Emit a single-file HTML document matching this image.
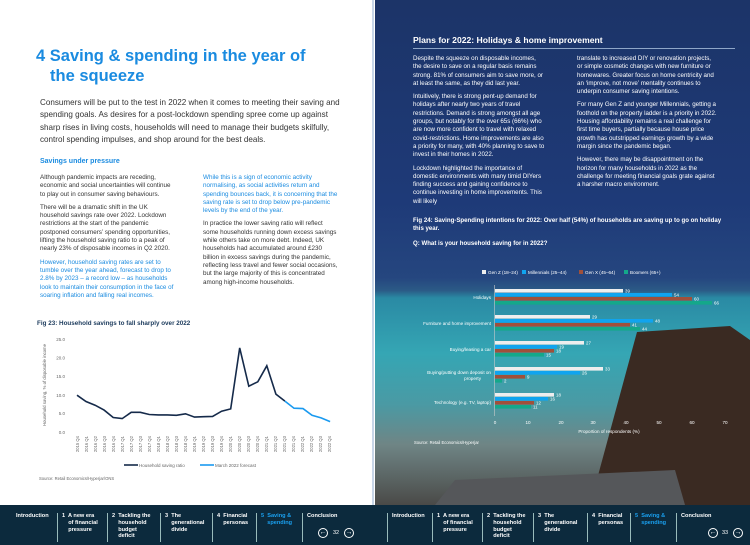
<!DOCTYPE html>
<html><head><meta charset="utf-8"><style>
*{margin:0;padding:0;box-sizing:border-box}
body{width:750px;height:545px;overflow:hidden;position:relative;font-family:"Liberation Sans",sans-serif;background:#fff}
.a{position:absolute}
.t{font-size:6.3px;line-height:8.3px;color:#333}
.w{color:#fff;font-size:6.2px;line-height:8.3px}
.b{color:#1a8be0}
p{margin-bottom:5px}
.nav{position:absolute;top:505px;height:40px;background:#0c2a3d;width:750px;left:0}
.ni{position:absolute;top:8px;color:#fff;font-size:5.6px;line-height:6.8px;font-weight:bold;padding-left:4px;border-left:1px solid #9bb;height:29px}
</style></head><body>
<!-- right page background -->
<div class="a" style="left:375px;top:0;width:375px;height:505px;background:linear-gradient(180deg,#1c3468 0%,#1e3a78 40%,#25467f 55%,#2b5a86 57.5%,#2a8aa4 59%,#35a6b4 70%,#4a9aa4 80%,#6f8585 88%,#4a4a48 100%)"></div>
<svg class="a" style="left:375px;top:0" width="375" height="505">
<polygon points="262,332 355,326 375,340 375,505 215,505" fill="#3a2a22"/>
<polygon points="80,480 300,470 310,505 60,505" fill="#55575a"/>
</svg>
<div class="a" style="left:372px;top:0;width:2px;height:505px;background:#c8d6e8"></div>

<!-- left page -->
<div class="a b" style="left:36px;top:46px;font-size:16.5px;line-height:20px;font-weight:bold">4 Saving &amp; spending in the year of<br><span style="padding-left:14px">the squeeze</span></div>
<div class="a" style="left:40px;top:97px;width:300px;font-size:8.1px;line-height:12.3px;color:#333">Consumers will be put to the test in 2022 when it comes to meeting their saving and spending goals. As desires for a post-lockdown spending spree come up against sharp rises in living costs, households will need to manage their budgets skilfully, control spending impulses, and shop around for the best deals.</div>
<div class="a b" style="left:40px;top:158px;font-size:7px;font-weight:bold">Savings under pressure</div>
<div class="a t" style="left:40px;top:174px;width:136px">
<p>Although pandemic impacts are receding, economic and social uncertainties will continue to play out in consumer saving behaviours.</p>
<p>There will be a dramatic shift in the UK household savings rate over 2022. Lockdown restrictions at the start of the pandemic postponed consumers’ spending opportunities, lifting the household saving ratio to a peak of nearly 23% of disposable incomes in Q2 2020.</p>
<p class="b">However, household saving rates are set to tumble over the year ahead, forecast to drop to 2.8% by 2023 – a record low – as households look to maintain their consumption in the face of soaring inflation and falling real incomes.</p></div>
<div class="a t" style="left:203px;top:174px;width:136px">
<p class="b">While this is a sign of economic activity normalising, as social activities return and spending bounces back, it is concerning that the saving rate is set to drop below pre-pandemic levels by the end of the year.</p>
<p>In practice the lower saving ratio will reflect some households running down excess savings while others take on more debt. Indeed, UK households had accumulated around £230 billion in excess savings during the pandemic, reflecting less travel and fewer social occasions, but the large majority of this is concentrated among high-income households.</p></div>
<div class="a" style="left:37px;top:320px;font-size:6.3px;font-weight:bold;color:#1b3a5c">Fig 23: Household savings to fall sharply over 2022</div>
<svg class="a" style="left:0;top:0" width="372" height="505" font-family="Liberation Sans" font-size="4.5" fill="#666">
<g text-anchor="end"><text x="65" y="341">25.0</text><text x="65" y="359.5">20.0</text><text x="65" y="378">15.0</text><text x="65" y="397">10.0</text><text x="65" y="415">5.0</text><text x="65" y="434">0.0</text></g>
<text transform="translate(46,385) rotate(-90)" text-anchor="middle" font-size="4.3">Household saving, % of disposable income</text>
<g font-size="4.2" text-anchor="end">
<text transform="translate(79,436) rotate(-90)">2015 Q4</text><text transform="translate(88,436) rotate(-90)">2016 Q1</text><text transform="translate(97,436) rotate(-90)">2016 Q2</text><text transform="translate(106,436) rotate(-90)">2016 Q3</text><text transform="translate(115,436) rotate(-90)">2016 Q4</text><text transform="translate(124,436) rotate(-90)">2017 Q1</text><text transform="translate(133,436) rotate(-90)">2017 Q2</text><text transform="translate(142,436) rotate(-90)">2017 Q3</text><text transform="translate(151,436) rotate(-90)">2017 Q4</text><text transform="translate(160,436) rotate(-90)">2018 Q1</text><text transform="translate(169,436) rotate(-90)">2018 Q2</text><text transform="translate(178,436) rotate(-90)">2018 Q3</text><text transform="translate(187,436) rotate(-90)">2018 Q4</text><text transform="translate(196,436) rotate(-90)">2019 Q1</text><text transform="translate(205,436) rotate(-90)">2019 Q2</text><text transform="translate(214,436) rotate(-90)">2019 Q3</text><text transform="translate(223,436) rotate(-90)">2019 Q4</text><text transform="translate(232,436) rotate(-90)">2020 Q1</text><text transform="translate(241,436) rotate(-90)">2020 Q2</text><text transform="translate(250,436) rotate(-90)">2020 Q3</text><text transform="translate(259,436) rotate(-90)">2020 Q4</text><text transform="translate(268,436) rotate(-90)">2021 Q1</text><text transform="translate(277,436) rotate(-90)">2021 Q2</text><text transform="translate(286,436) rotate(-90)">2021 Q3</text><text transform="translate(295,436) rotate(-90)">2021 Q4</text><text transform="translate(304,436) rotate(-90)">2022 Q1</text><text transform="translate(313,436) rotate(-90)">2022 Q2</text><text transform="translate(322,436) rotate(-90)">2022 Q3</text><text transform="translate(331,436) rotate(-90)">2022 Q4</text></g>
<polyline fill="none" stroke="#152a4a" stroke-width="1.6" points="77,395.2 86,401.5 95.1,405.2 104.1,410.1 113.2,417.5 122.2,418.6 131.2,412.3 140.3,412.3 149.3,414.5 158.4,414.9 167.4,414.9 176.4,415.3 185.5,413.8 194.5,417.1 203.6,416.7 212.6,416.4 221.6,411.2 230.7,408.9 239.7,347.9 248.8,386.2 257.8,381.8 266.8,365.8 275.9,394.1 284.9,401.1"/>
<polyline fill="none" stroke="#1a9af0" stroke-width="1.6" points="284.9,401.1 294,408.2 303,408.6 312,415.3 321.1,417.9 330.1,421.6"/>
<line x1="124" y1="465" x2="138" y2="465" stroke="#152a4a" stroke-width="1.6"/><text x="139" y="467">Household saving ratio</text>
<line x1="200" y1="465" x2="214" y2="465" stroke="#1a9af0" stroke-width="1.6"/><text x="215" y="467">March 2022 forecast</text>
<text x="39" y="480" font-size="4.2">Source: Retail Economics/Hyperjar/ONS</text>
</svg>

<!-- right page text -->
<div class="a" style="left:413px;top:35px;color:#fff;font-size:8.6px;font-weight:bold">Plans for 2022: Holidays &amp; home improvement</div>
<div class="a" style="left:413px;top:48px;width:322px;height:1px;background:#8fa6c8"></div>
<div class="a w" style="left:413px;top:55px;width:133px">
<p>Despite the squeeze on disposable incomes, the desire to save on a regular basis remains strong. 81% of consumers aim to save more, or at least the same, as they did last year.</p>
<p>Intuitively, there is strong pent-up demand for holidays after nearly two years of travel restrictions. Demand is strong amongst all age groups, but notably for the over 65s (66%) who are now more confident to travel with relaxed covid-restrictions. Home improvements are also a priority for many, with 40% planning to save to invest in their homes in 2022.</p>
<p>Lockdown highlighted the importance of domestic environments with many timid DIYers finding success and gaining confidence to continue investing in home improvements. This will likely</p></div>
<div class="a w" style="left:577px;top:55px;width:140px">
<p>translate to increased DIY or renovation projects, or simple cosmetic changes with new furniture or homewares. Greater focus on home centricity and an ‘improve, not move’ mentality continues to underpin consumer saving intentions.</p>
<p>For many Gen Z and younger Millennials, getting a foothold on the property ladder is a priority in 2022. Housing affordability remains a real challenge for first time buyers, partially because house price growth has outstripped earnings growth by a wide margin since the pandemic began.</p>
<p>However, there may be disappointment on the horizon for many households in 2022 as the challenge for meeting financial goals grate against a harsher macro environment.</p></div>
<div class="a" style="left:413px;top:217px;width:320px;color:#fff;font-size:6.1px;line-height:8px;font-weight:bold">Fig 24: Saving-Spending intentions for 2022: Over half (54%) of households are saving up to go on holiday this year.</div>
<div class="a" style="left:413px;top:240px;color:#fff;font-size:6.1px;font-weight:bold">Q: What is your household saving for in 2022?</div>

<svg class="a" style="left:375px;top:250px" width="375" height="200" font-family="Liberation Sans" font-size="4.6" fill="#fff">
<rect x="107" y="20" width="4" height="4" fill="#eee"/><text x="113" y="24">Gen Z (18–24)</text>
<rect x="147" y="20" width="4" height="4" fill="#10a4ef"/><text x="153" y="24">Millennials (25–44)</text>
<rect x="204" y="20" width="4" height="4" fill="#a0503a"/><text x="210" y="24">Gen X (45–64)</text>
<rect x="249" y="20" width="4" height="4" fill="#14a88a"/><text x="255" y="24">Boomers (65+)</text>
<line x1="119.5" y1="35" x2="119.5" y2="166" stroke="#ccc" stroke-width="0.6"/>
<g text-anchor="end"><text x="116" y="49">Holidays</text><text x="116" y="75">Furniture and home improvement</text><text x="116" y="101">Buying/leasing a car</text><text x="116" y="124">Buying/putting down deposit on</text><text x="106" y="130">property</text><text x="116" y="154">Technology (e.g. TV, laptop)</text></g>
<g>
<rect x="120" y="39" width="128" height="3.6" fill="#eee"/><rect x="120" y="43" width="177" height="3.6" fill="#10a4ef"/><rect x="120" y="47" width="197" height="3.6" fill="#a0503a"/><rect x="120" y="51" width="217" height="3.6" fill="#14a88a"/>
<rect x="120" y="65" width="95" height="3.6" fill="#eee"/><rect x="120" y="69" width="158" height="3.6" fill="#10a4ef"/><rect x="120" y="73" width="135" height="3.6" fill="#a0503a"/><rect x="120" y="77" width="145" height="3.6" fill="#14a88a"/>
<rect x="120" y="91" width="89" height="3.6" fill="#eee"/><rect x="120" y="95" width="62" height="3.6" fill="#10a4ef"/><rect x="120" y="99" width="59" height="3.6" fill="#a0503a"/><rect x="120" y="103" width="49" height="3.6" fill="#14a88a"/>
<rect x="120" y="117" width="108" height="3.6" fill="#eee"/><rect x="120" y="121" width="85" height="3.6" fill="#10a4ef"/><rect x="120" y="125" width="30" height="3.6" fill="#a0503a"/><rect x="120" y="129" width="7" height="3.6" fill="#14a88a"/>
<rect x="120" y="143" width="59" height="3.6" fill="#eee"/><rect x="120" y="147" width="53" height="3.6" fill="#10a4ef"/><rect x="120" y="151" width="39" height="3.6" fill="#a0503a"/><rect x="120" y="155" width="36" height="3.6" fill="#14a88a"/>
</g>
<g font-size="4.4">
<text x="250" y="42.5">39</text><text x="299" y="46.5">54</text><text x="319" y="50.5">60</text><text x="339" y="54.5">66</text>
<text x="217" y="68.5">29</text><text x="280" y="72.5">48</text><text x="257" y="76.5">41</text><text x="267" y="80.5">44</text>
<text x="211" y="94.5">27</text><text x="184" y="98.5">19</text><text x="181" y="102.5">18</text><text x="171" y="106.5">15</text>
<text x="230" y="120.5">33</text><text x="207" y="124.5">26</text><text x="152" y="128.5">9</text><text x="129" y="132.5">2</text>
<text x="181" y="146.5">18</text><text x="175" y="150.5">16</text><text x="161" y="154.5">12</text><text x="158" y="158.5">11</text>
</g>
<g text-anchor="middle" font-size="4.6"><text x="120" y="174">0</text><text x="153" y="174">10</text><text x="186" y="174">20</text><text x="218" y="174">30</text><text x="251" y="174">40</text><text x="284" y="174">50</text><text x="317" y="174">60</text><text x="350" y="174">70</text></g>
<text x="234" y="183" text-anchor="middle">Proportion of respondents (%)</text>
<text x="39" y="194" font-size="4.2">Source: Retail Economics/Hyperjar</text>
</svg>

<!-- footer -->
<div class="nav">
<div class="ni" style="left:12px;border:none">Introduction</div>
<div class="ni" style="left:57px">1&nbsp; A new era<br>&nbsp;&nbsp;&nbsp; of financial<br>&nbsp;&nbsp;&nbsp; pressure</div>
<div class="ni" style="left:107px">2&nbsp; Tackling the<br>&nbsp;&nbsp;&nbsp; household<br>&nbsp;&nbsp;&nbsp; budget<br>&nbsp;&nbsp;&nbsp; deficit</div>
<div class="ni" style="left:160px">3&nbsp; The<br>&nbsp;&nbsp;&nbsp; generational<br>&nbsp;&nbsp;&nbsp; divide</div>
<div class="ni" style="left:212px">4&nbsp; Financial<br>&nbsp;&nbsp;&nbsp; personas</div>
<div class="ni" style="left:256px;color:#1aa0f0">5&nbsp; Saving &amp;<br>&nbsp;&nbsp;&nbsp; spending</div>
<div class="ni" style="left:302px">Conclusion</div>
<div class="a" style="left:318px;top:23px;width:10px;height:10px;border:1px solid #fff;border-radius:50%;color:#fff;font-size:7px;line-height:8px;text-align:center">←</div>
<div class="a" style="left:333px;top:25px;color:#fff;font-size:5.5px">32</div>
<div class="a" style="left:344px;top:23px;width:10px;height:10px;border:1px solid #fff;border-radius:50%;color:#fff;font-size:7px;line-height:8px;text-align:center">→</div>
<div class="ni" style="left:387px">Introduction</div>
<div class="ni" style="left:432px">1&nbsp; A new era<br>&nbsp;&nbsp;&nbsp; of financial<br>&nbsp;&nbsp;&nbsp; pressure</div>
<div class="ni" style="left:482px">2&nbsp; Tackling the<br>&nbsp;&nbsp;&nbsp; household<br>&nbsp;&nbsp;&nbsp; budget<br>&nbsp;&nbsp;&nbsp; deficit</div>
<div class="ni" style="left:533px">3&nbsp; The<br>&nbsp;&nbsp;&nbsp; generational<br>&nbsp;&nbsp;&nbsp; divide</div>
<div class="ni" style="left:587px">4&nbsp; Financial<br>&nbsp;&nbsp;&nbsp; personas</div>
<div class="ni" style="left:630px;color:#1aa0f0">5&nbsp; Saving &amp;<br>&nbsp;&nbsp;&nbsp; spending</div>
<div class="ni" style="left:676px">Conclusion</div>
<div class="a" style="left:708px;top:23px;width:10px;height:10px;border:1px solid #fff;border-radius:50%;color:#fff;font-size:7px;line-height:8px;text-align:center">←</div>
<div class="a" style="left:722px;top:25px;color:#fff;font-size:5.5px">33</div>
<div class="a" style="left:733px;top:23px;width:10px;height:10px;border:1px solid #fff;border-radius:50%;color:#fff;font-size:7px;line-height:8px;text-align:center">→</div>
</div>
</body></html>
